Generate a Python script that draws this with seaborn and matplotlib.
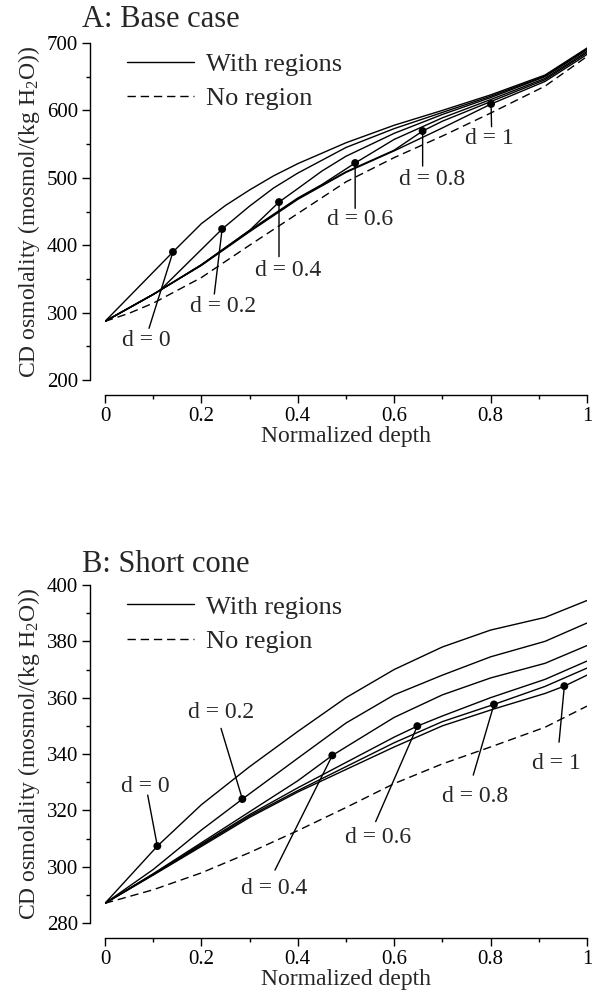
import matplotlib
matplotlib.use("Agg")
import matplotlib.pyplot as plt
from matplotlib.lines import Line2D
from matplotlib.ticker import MultipleLocator, FuncFormatter
import pandas as pd
import seaborn as sns

D_LABELS = ["0", "0.2", "0.4", "0.6", "0.8", "1"]

# --- Panel A: base case -------------------------------------------------
A_D0_X = [0, 0.141, 0.2, 0.25, 0.3, 0.35, 0.4, 0.5, 0.6, 0.7, 0.8, 0.913, 1.0]
A_D0_Y = [287, 390, 432, 459, 482, 503, 521, 552, 578, 600, 623, 652.5, 692.5]
A_D02_X = [0, 0.1, 0.114, 0.243, 0.3, 0.35, 0.4, 0.5, 0.6, 0.7, 0.8, 0.913, 1.0]
A_D02_Y = [287, 327, 333, 424, 458, 485, 507, 545, 573, 597, 621, 651, 691]
A_D04_X = [0, 0.1, 0.2, 0.3, 0.361, 0.4, 0.45, 0.5, 0.6, 0.7, 0.8, 0.913, 1.0]
A_D04_Y = [287, 327, 371, 422, 464, 484, 510, 532, 566, 594, 619, 650, 690]
A_D06_X = [0, 0.1, 0.2, 0.3, 0.4, 0.45, 0.519, 0.6, 0.7, 0.8, 0.913, 1.0]
A_D06_Y = [287, 327, 371, 422, 470, 490, 522, 557, 589, 616, 647.5, 687.5]
A_D08_X = [0, 0.1, 0.2, 0.3, 0.4, 0.5, 0.6, 0.659, 0.7, 0.8, 0.913, 1.0]
A_D08_Y = [287, 327, 370.5, 421, 469, 509, 541, 569.4, 584, 613, 645.5, 685.5]
A_D1_X = [0, 0.1, 0.2, 0.3, 0.4, 0.5, 0.6, 0.7, 0.801, 0.913, 1.0]
A_D1_Y = [287, 327, 370, 420, 468, 508, 540, 574, 609.5, 643, 683]
A_NR_X = [0, 0.05, 0.1, 0.2, 0.3, 0.4, 0.5, 0.6, 0.7, 0.8, 0.913, 1.0]
A_NR_Y = [287, 299, 314, 352, 400, 447, 494, 530, 562, 596, 636, 680]
A_DOT_X = [0.141, 0.243, 0.361, 0.519, 0.659, 0.801]
A_DOT_Y = [390, 424, 464, 522, 569.4, 609.5]

# --- Panel B: short cone ------------------------------------------------
B_D0_X = [0, 0.1086, 0.2, 0.3, 0.4, 0.5, 0.6, 0.7, 0.8, 0.913, 1.0]
B_D0_Y = [287, 307.3, 322, 335.5, 348, 360, 370, 378, 384, 388.5, 394.5]
B_D02_X = [0, 0.1, 0.2, 0.285, 0.4, 0.5, 0.6, 0.7, 0.8, 0.913, 1.0]
B_D02_Y = [287, 299, 313, 324, 338.5, 351, 361, 368, 374.5, 380, 386.5]
B_D04_X = [0, 0.1, 0.2, 0.3, 0.4, 0.4716, 0.5, 0.6, 0.7, 0.8, 0.913, 1.0]
B_D04_Y = [287, 297.5, 308.5, 319.5, 330.5, 339.5, 342.5, 353, 361, 367, 372.2, 378.5]
B_D06_X = [0, 0.1, 0.2, 0.3, 0.4, 0.5, 0.6, 0.648, 0.7, 0.8, 0.913, 1.0]
B_D06_Y = [287, 297.3, 308, 318.5, 328, 337, 346, 349.9, 353.5, 360, 366.5, 373]
B_D08_X = [0, 0.1, 0.2, 0.3, 0.4, 0.5, 0.6, 0.7, 0.807, 0.913, 1.0]
B_D08_Y = [287, 297.2, 307.6, 318, 327, 335.5, 344, 351.5, 357.6, 364, 370.5]
B_D1_X = [0, 0.1, 0.2, 0.3, 0.4, 0.5, 0.6, 0.7, 0.807, 0.913, 0.953, 1.0]
B_D1_Y = [287, 297, 307.2, 317.5, 326.5, 334.5, 342.5, 350, 356, 361.5, 364.1, 368]
B_NR_X = [0, 0.1, 0.2, 0.3, 0.4, 0.5, 0.6, 0.7, 0.8, 0.913, 1.0]
B_NR_Y = [287, 291.8, 297.8, 305, 312.8, 321, 329.5, 336.5, 342.5, 349.5, 357]
B_DOT_X = [0.1086, 0.285, 0.4716, 0.648, 0.807, 0.953]
B_DOT_Y = [307.3, 324, 339.5, 349.9, 357.6, 364.1]

# annotation layout (label centre and start of the pointer line)
A_TEXT_X = [0.0865, 0.2454, 0.380, 0.529, 0.678, 0.797]
A_TEXT_Y = [259.3, 308.8, 363.2, 437.4, 498, 557.6]
A_LEAD_X = [0.0913, 0.2268, 0.361, 0.519, 0.659, 0.802]
A_LEAD_Y = [276.7, 327.6, 383, 454.7, 517.5, 575.8]
B_TEXT_X = [0.083, 0.240, 0.3506, 0.5658, 0.7676, 0.937]
B_TEXT_Y = [328.6, 354.7, 292.3, 310.3, 324.8, 336.7]
B_LEAD_X = [0.0886, 0.2407, 0.3527, 0.5616, 0.764, 0.942]
B_LEAD_Y = [325.4, 349.1, 298.8, 316, 332.5, 344.2]


def build_frame(curves, nr_x, nr_y):
    rows = []
    for label, (xs, ys) in zip(D_LABELS, curves):
        for x, y in zip(xs, ys):
            rows.append({"depth": x, "osm": y, "curve": label, "kind": "With regions"})
    for x, y in zip(nr_x, nr_y):
        rows.append({"depth": x, "osm": y, "curve": "none", "kind": "No region"})
    return pd.DataFrame(rows)


def draw_panel(ax, df, dot_x, dot_y, text_x, text_y, lead_x, lead_y,
               title, title_y, ylim, ymajor, yminor, legend_y):
    sns.lineplot(data=df, x="depth", y="osm", units="curve", estimator=None,
                 style="kind", dashes={"With regions": "", "No region": (6, 3.5)},
                 color="black", lw=1.0, sort=False, legend=False, ax=ax)
    sns.scatterplot(x=dot_x, y=dot_y, color="black", s=32, edgecolor="none",
                    zorder=5, ax=ax)
    for lab, tx, ty, lx, ly, dx, dy in zip(D_LABELS, text_x, text_y,
                                           lead_x, lead_y, dot_x, dot_y):
        ax.annotate("", xy=(dx, dy), xytext=(lx, ly),
                    arrowprops=dict(arrowstyle="-", color="black", lw=1.0,
                                    shrinkA=0, shrinkB=0))
        ax.text(tx, ty, f"d = {lab}", ha="center", va="center", fontsize=17)

    ax.set_xlim(0, 1)
    ax.set_ylim(*ylim)
    ax.xaxis.set_major_locator(MultipleLocator(0.2))
    ax.xaxis.set_minor_locator(MultipleLocator(0.1))
    ax.yaxis.set_major_locator(MultipleLocator(ymajor))
    ax.yaxis.set_minor_locator(MultipleLocator(yminor))
    ax.xaxis.set_major_formatter(FuncFormatter(lambda v, p: f"{v:g}"))
    ax.tick_params(which="major", length=6, width=1.0, labelsize=15)
    ax.tick_params(which="minor", length=3, width=1.0)
    ax.tick_params(axis="x", pad=3)
    ax.tick_params(axis="y", pad=3)
    sns.despine(ax=ax, offset=10.5)
    for side in ("left", "bottom"):
        ax.spines[side].set_linewidth(1.0)

    ax.set_xlabel("Normalized depth", fontsize=17, labelpad=0)
    ax.set_ylabel("CD osmolality (mosmol/(kg H$_2$O))", fontsize=17, labelpad=3)
    ax.text(-0.048, title_y, title, transform=ax.transAxes, fontsize=22,
            ha="left", va="baseline")

    handles = [Line2D([], [], color="black", lw=1.0),
               Line2D([], [], color="black", lw=1.0, dashes=(6, 3.5))]
    ax.legend(handles, ["With regions", "No region"], loc="upper left",
              bbox_to_anchor=(0.045, legend_y), frameon=False, fontsize=19,
              handlelength=2.55, handletextpad=0.45, labelspacing=0.42,
              borderpad=0, borderaxespad=0)


sns.set_style("ticks")
plt.rcParams["font.family"] = ["Liberation Serif", "DejaVu Serif"]
plt.rcParams["mathtext.fontset"] = "custom"
plt.rcParams["mathtext.rm"] = "Liberation Serif"
plt.rcParams["mathtext.it"] = "Liberation Serif:italic"
plt.rcParams["axes.edgecolor"] = "black"
plt.rcParams["xtick.color"] = "black"
plt.rcParams["ytick.color"] = "black"

fig = plt.figure(figsize=(5.92, 9.96), dpi=100)
ax_a = fig.add_axes([0.17736, 0.61847, 0.81419, 0.33835])
ax_b = fig.add_axes([0.17736, 0.07329, 0.81419, 0.33936])

df_a = build_frame([(A_D0_X, A_D0_Y), (A_D02_X, A_D02_Y), (A_D04_X, A_D04_Y),
                    (A_D06_X, A_D06_Y), (A_D08_X, A_D08_Y), (A_D1_X, A_D1_Y)],
                   A_NR_X, A_NR_Y)
df_b = build_frame([(B_D0_X, B_D0_Y), (B_D02_X, B_D02_Y), (B_D04_X, B_D04_Y),
                    (B_D06_X, B_D06_Y), (B_D08_X, B_D08_Y), (B_D1_X, B_D1_Y)],
                   B_NR_X, B_NR_Y)

draw_panel(ax_a, df_a, A_DOT_X, A_DOT_Y, A_TEXT_X, A_TEXT_Y, A_LEAD_X, A_LEAD_Y,
           "A: Base case", 1.047, (200, 700), 100, 50, 0.972)
draw_panel(ax_b, df_b, B_DOT_X, B_DOT_Y, B_TEXT_X, B_TEXT_Y, B_LEAD_X, B_LEAD_Y,
           "B: Short cone", 1.038, (280, 400), 20, 10, 0.970)

fig.savefig("out.png", dpi=100)
